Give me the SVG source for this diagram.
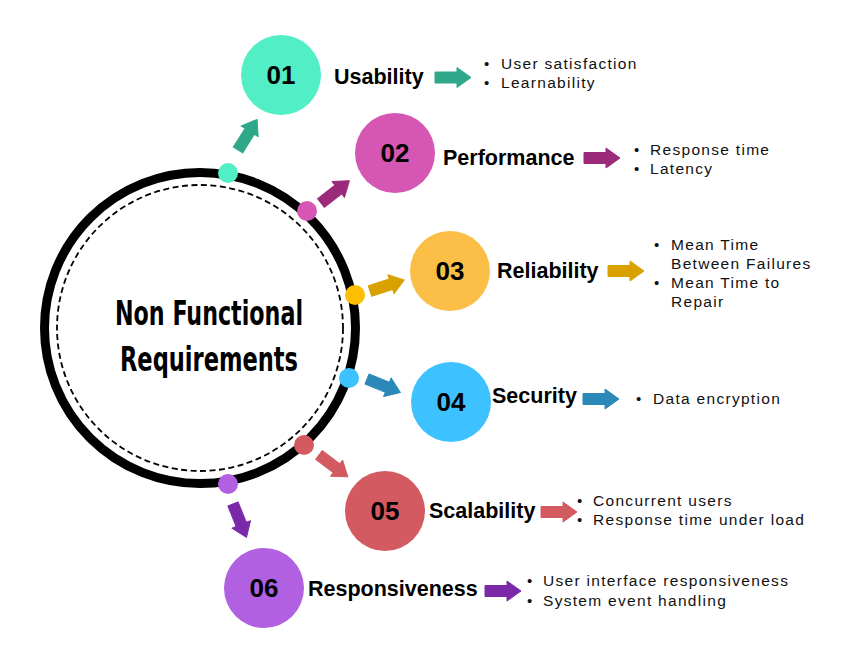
<svg xmlns="http://www.w3.org/2000/svg" xmlns:xlink="http://www.w3.org/1999/xlink" width="851" height="656" viewBox="0 0 851 656">
  <style>
    .title { font-family: "Liberation Sans Narrow", "DejaVu Sans Condensed", "Liberation Sans", sans-serif; font-weight: bold; font-size: 34px; fill: #000; font-stretch: condensed; }
    .num { font-family: "Liberation Sans", Arial, sans-serif; font-weight: bold; font-size: 26px; fill: #000; text-anchor: middle; }
    .label { font-family: "Liberation Sans", Arial, sans-serif; font-weight: bold; font-size: 21.5px; fill: #000; }
    .item { font-family: "Liberation Sans", Arial, sans-serif; font-size: 15.5px; letter-spacing: 1.3px; fill: #111; }
    .bullet { font-family: "Liberation Sans", Arial, sans-serif; font-size: 15px; fill: #111; }
  </style>
  <defs>
    <!-- block arrow pointing right, tail centre at origin -->
    <path id="arrow" d="M0,-5.5 H22 V-10 L36,0 L22,10 V5.5 H0 Z" stroke-linejoin="round"/>
  </defs>

  <rect width="851" height="656" fill="#fff"/>

  <!-- central hub -->
  <g id="hub">
    <circle cx="200" cy="328" r="155.5" fill="#fff" stroke="#000" stroke-width="9"/>
    <circle cx="200" cy="328" r="143" fill="none" stroke="#000" stroke-width="1.8" stroke-dasharray="6 3.5"/>
    <text class="title" x="115" y="325" textLength="188" lengthAdjust="spacingAndGlyphs">Non Functional</text>
    <text class="title" x="120" y="371" textLength="178" lengthAdjust="spacingAndGlyphs">Requirements</text>
  </g>

  <!-- connectors: dots on the ring, diagonal arrows and label arrows -->
  <g id="connectors">
    <circle cx="228" cy="173" r="10" fill="#52efc7"/>
    <circle cx="307" cy="211" r="10" fill="#d656b4"/>
    <circle cx="355" cy="295" r="10" fill="#fdbf00"/>
    <circle cx="349" cy="378" r="10" fill="#3ec2ff"/>
    <circle cx="304" cy="445" r="10" fill="#d45a62"/>
    <circle cx="228" cy="484" r="10" fill="#b060e0"/>

    <use xlink:href="#arrow" fill="#2fa88a" stroke="#2fa88a" transform="translate(238,150) rotate(-58)"/>
    <use xlink:href="#arrow" fill="#9b2a7a" stroke="#9b2a7a" transform="translate(321,203) rotate(-38)"/>
    <use xlink:href="#arrow" fill="#d9a100" stroke="#d9a100" transform="translate(370,291) rotate(-18)"/>
    <use xlink:href="#arrow" fill="#2a89b8" stroke="#2a89b8" transform="translate(367,379) rotate(22)"/>
    <use xlink:href="#arrow" fill="#d45a62" stroke="#d45a62" transform="translate(319,455) rotate(37)"/>
    <use xlink:href="#arrow" fill="#7a2aa8" stroke="#7a2aa8" transform="translate(233,504) rotate(68)"/>

    <use xlink:href="#arrow" fill="#2fa88a" stroke="#2fa88a" transform="translate(435,77.5)"/>
    <use xlink:href="#arrow" fill="#9b2a7a" stroke="#9b2a7a" transform="translate(584,158)"/>
    <use xlink:href="#arrow" fill="#d9a100" stroke="#d9a100" transform="translate(608,271)"/>
    <use xlink:href="#arrow" fill="#2a89b8" stroke="#2a89b8" transform="translate(583,399)"/>
    <use xlink:href="#arrow" fill="#d45a62" stroke="#d45a62" transform="translate(541,512)"/>
    <use xlink:href="#arrow" fill="#7a2aa8" stroke="#7a2aa8" transform="translate(485,591)"/>
  </g>

  <g id="usability">
    <circle cx="281" cy="75" r="40" fill="#52efc7"/>
    <text class="num" x="281" y="84">01</text>
    <text class="label" x="334" y="84">Usability</text>
    <text class="bullet" x="484" y="69">•</text>
    <text class="item" x="501" y="69">User satisfaction</text>
    <text class="bullet" x="484" y="88">•</text>
    <text class="item" x="501" y="88">Learnability</text>
  </g>

  <g id="performance">
    <circle cx="395" cy="153" r="40" fill="#d656b4"/>
    <text class="num" x="395" y="162">02</text>
    <text class="label" x="443" y="165">Performance</text>
    <text class="bullet" x="634" y="155">•</text>
    <text class="item" x="650" y="155">Response time</text>
    <text class="bullet" x="634" y="174">•</text>
    <text class="item" x="650" y="174">Latency</text>
  </g>

  <g id="reliability">
    <circle cx="450" cy="271" r="40" fill="#fbbf47"/>
    <text class="num" x="450" y="280">03</text>
    <text class="label" x="497" y="278">Reliability</text>
    <text class="bullet" x="654" y="250">•</text>
    <text class="item" x="671" y="250">Mean Time</text>
    <text class="item" x="671" y="269">Between Failures</text>
    <text class="bullet" x="654" y="288">•</text>
    <text class="item" x="671" y="288">Mean Time to</text>
    <text class="item" x="671" y="307">Repair</text>
  </g>

  <g id="security">
    <circle cx="451" cy="402" r="40" fill="#3ec2ff"/>
    <text class="num" x="451" y="411">04</text>
    <text class="label" x="492" y="403">Security</text>
    <text class="bullet" x="636" y="404">•</text>
    <text class="item" x="653" y="404">Data encryption</text>
  </g>

  <g id="scalability">
    <circle cx="385" cy="511" r="40" fill="#d45a62"/>
    <text class="num" x="385" y="520">05</text>
    <text class="label" x="429" y="518">Scalability</text>
    <text class="bullet" x="577" y="506">•</text>
    <text class="item" x="593" y="506">Concurrent users</text>
    <text class="bullet" x="577" y="525">•</text>
    <text class="item" x="593" y="525">Response time under load</text>
  </g>

  <g id="responsiveness">
    <circle cx="264" cy="588" r="40" fill="#b060e0"/>
    <text class="num" x="264" y="597">06</text>
    <text class="label" x="308" y="596">Responsiveness</text>
    <text class="bullet" x="527" y="586">•</text>
    <text class="item" x="543" y="586">User interface responsiveness</text>
    <text class="bullet" x="527" y="606">•</text>
    <text class="item" x="543" y="606">System event handling</text>
  </g>
</svg>
